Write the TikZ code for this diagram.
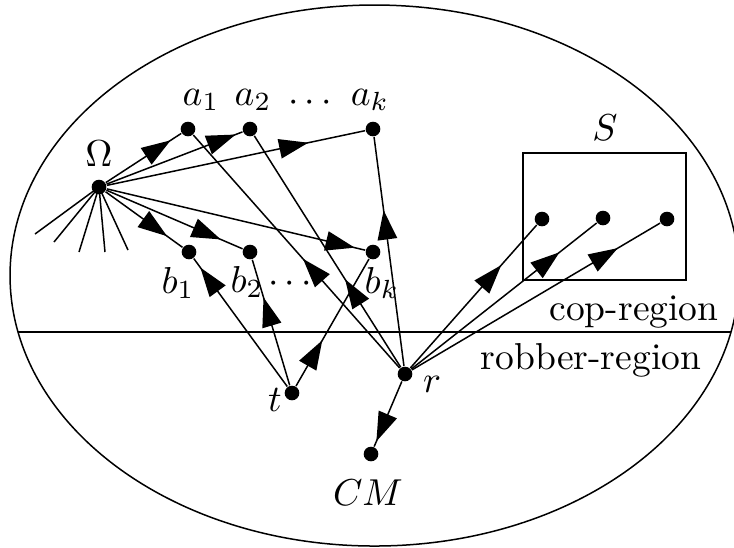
\documentclass[tikz,border=0pt]{standalone}
\usetikzlibrary{arrows.meta,decorations.markings}
\begin{document}
\begin{tikzpicture}[x=0.2667pt,y=-0.2667pt,
  dot/.style={circle,fill=black,inner sep=0pt,minimum size=3.9pt},
  lbl/.style={inner sep=0pt},
  marr/.style={postaction={decorate},decoration={markings,
    mark=at position #1 with {\arrow{Triangle[length=7.8pt,width=5.2pt]}}}},
  line width=0.4pt]
\useasboundingbox (0,0) rectangle (734,547);
% outer ellipse and region line
\draw (374.5,275.5) ellipse [x radius=97.2pt, y radius=72.14pt];
\coordinate (L) at (18,332);
\coordinate (R) at (731,332);
\draw (L) -- (R);
% nodes
\node[dot] (O) at (99,187) {};
\node[dot] (a1) at (188,129) {};
\node[dot] (a2) at (250,129) {};
\node[dot] (ak) at (373,129) {};
\node[dot] (b1) at (189,252) {};
\node[dot] (b2) at (250,252) {};
\node[dot] (bk) at (373,252) {};
\node[dot] (t) at (292,393) {};
\node[dot] (r) at (405,374) {};
\node[dot] (cm) at (371,454) {};
\node[draw,minimum width=43.47pt,minimum height=33.87pt,inner sep=0pt] (S) at (604.5,216.5) {};
\node[dot] (s1) at (542,219) {};
\node[dot] (s2) at (603,218) {};
\node[dot] (s3) at (667,219) {};
% labels
\node[lbl] (lO) at (99,154) {$\Omega$};
\node[lbl] (la1) at (201,100) {$a_1$};
\node[lbl] (la2) at (253,100) {$a_2$};
\node[lbl] (lad) at (310,103) {$\cdots$};
\node[lbl] (lak) at (370,100) {$a_k$};
\node[lbl] (lb1) at (178,283) {$b_1$};
\node[lbl] (lb2) at (247,282) {$b_2$};
\node[lbl] (lbd) at (290,284) {$\cdots$};
\node[lbl] (lbk) at (382,283) {$b_k$};
\node[lbl] (lt) at (275,400) {$t$};
\node[lbl] (lr) at (432,384) {$r$};
\node[lbl] (lcm) at (368,493) {$CM$};
\node[lbl] (lS) at (605,128) {$S$};
\node[lbl] (lcop) at (634,312) {cop-region};
\node[lbl] (lrob) at (591,360) {robber-region};
% rays from Omega
\coordinate (w1) at (35,234);
\coordinate (w2) at (54,242);
\coordinate (w3) at (79,252);
\coordinate (w4) at (105,252);
\coordinate (w5) at (128,250);
\foreach \w in {w1,w2,w3,w4,w5} \draw (O.center) -- (\w);
% edges from Omega
\draw[marr=0.86] (O) -- (a1);
\draw[marr=0.95] (O) -- (a2);
\draw[marr=0.78] (O) -- (ak);
\draw[marr=0.8] (O) -- (b1);
\draw[marr=0.84] (O) -- (b2);
\draw[marr=0.96] (O) -- (bk);
% edges from t
\draw[marr=0.93] (t) -- (b1);
\draw[marr=0.7] (t) -- (b2);
\draw[marr=0.36] (t) -- (bk);
% edges from r
\draw[marr=0.47] (r) -- (a1);
\draw[marr=0.38] (r) -- (a2);
\draw[marr=0.68] (r) -- (ak);
\draw[marr=0.72] (r) -- (s1);
\draw[marr=0.8] (r) -- (s2);
\draw[marr=0.83] (r) -- (s3);
\draw[marr=0.92] (r) -- (cm);
\end{tikzpicture}
\end{document}
